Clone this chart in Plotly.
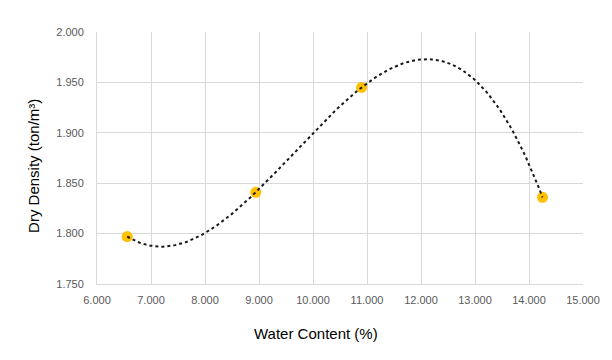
import numpy as np
import plotly.graph_objects as go

water_content = [6.56, 8.94, 10.90, 14.25]
dry_density = [1.797, 1.841, 1.945, 1.836]
x_ticks = [6, 7, 8, 9, 10, 11, 12, 13, 14, 15]
y_ticks = [1.75, 1.80, 1.85, 1.90, 1.95, 2.00]
x_title = "Water Content (%)"
y_title = "Dry Density (ton/m³)"

# polynomial (order 3) trendline, as in the original spreadsheet chart
coef = np.polyfit(water_content, dry_density, 3)
xs = np.linspace(min(water_content), max(water_content), 200)
ys = np.polyval(coef, xs)

fig = go.Figure()
fig.add_trace(go.Scatter(x=water_content, y=dry_density, mode="markers",
                         marker=dict(color="#FFC000", size=11, line=dict(width=0)),
                         showlegend=False))
fig.add_trace(go.Scatter(x=xs, y=ys, mode="lines",
                         line=dict(color="#1a1a1a", width=2, dash="dot"),
                         showlegend=False))

fig.update_layout(
    width=612, height=360,
    margin=dict(l=97, r=19, t=32, b=76),
    paper_bgcolor="white", plot_bgcolor="white",
    font=dict(family="Liberation Sans, Arial", color="#595959"),
    xaxis=dict(range=[6, 15], tickvals=x_ticks,
               ticktext=[f"{v:.3f}" for v in x_ticks],
               showgrid=True, gridcolor="#d9d9d9", gridwidth=1,
               zeroline=False, showline=True, linecolor="#d9d9d9",
               ticks="", ticklabelstandoff=6,
               tickfont=dict(size=11, color="#595959")),
    yaxis=dict(range=[1.75, 2.0], tickvals=y_ticks,
               ticktext=[f"{v:.3f}" for v in y_ticks],
               showgrid=True, gridcolor="#d9d9d9", gridwidth=1,
               zeroline=False, showline=True, linecolor="#d9d9d9",
               ticks="", ticklabelstandoff=10,
               tickfont=dict(size=11, color="#595959")),
    annotations=[
        dict(text=x_title, xref="paper", yref="paper", x=0.45, y=-0.195,
             xanchor="center", yanchor="middle", showarrow=False,
             font=dict(size=15, color="#000000")),
        dict(text=y_title, xref="paper", yref="paper", x=-0.131, y=0.47,
             xanchor="center", yanchor="middle", showarrow=False, textangle=-90,
             font=dict(size=15, color="#000000")),
    ],
)
fig.write_html("out.html")
